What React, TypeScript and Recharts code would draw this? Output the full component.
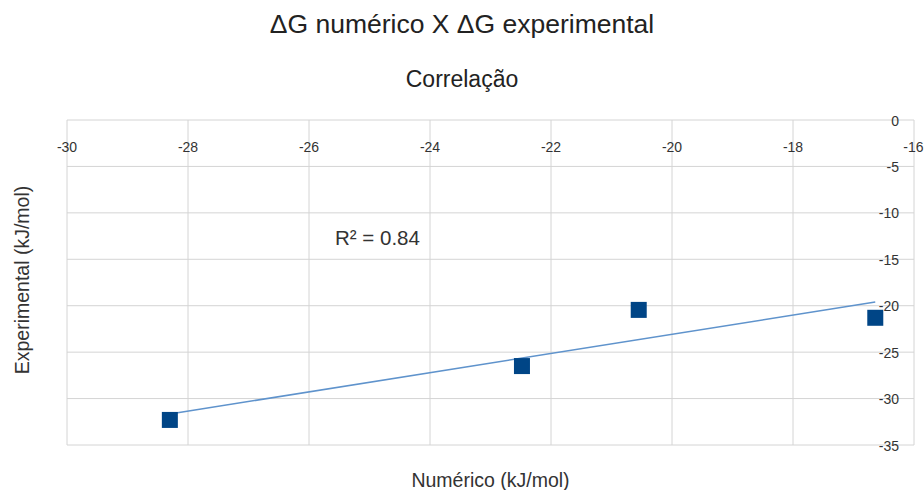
import { ScatterChart, Scatter, XAxis, YAxis, CartesianGrid } from "recharts";

// valores (kJ/mol)
const numerico = [-28.3, -22.48, -20.55, -16.64];
const experimental = [-32.3, -26.5, -20.45, -21.3];
const xTicks = [-30, -28, -26, -24, -22, -20, -18, -16];
const yTicks = [0, -5, -10, -15, -20, -25, -30, -35];
const r2Label = "R² = 0.84";

const W = 924;
const H = 490;
const PLOT_TOP = 120;
const PLOT_LEFT = 67;
const PLOT_RIGHT = 914;
const PLOT_BOTTOM = 445;
const FONT = "'Liberation Sans', Arial, sans-serif";

const points = numerico.map((x, i) => ({ x, y: experimental[i] }));

// linha de tendência (mínimos quadrados) entre o menor e o maior x
function trendLine() {
  const n = numerico.length;
  const mx = numerico.reduce((a, b) => a + b, 0) / n;
  const my = experimental.reduce((a, b) => a + b, 0) / n;
  let sxy = 0;
  let sxx = 0;
  numerico.forEach((x, i) => {
    sxy += (x - mx) * (experimental[i] - my);
    sxx += (x - mx) * (x - mx);
  });
  const slope = sxy / sxx;
  const x0 = Math.min(...numerico);
  const x1 = Math.max(...numerico);
  return [
    { x: x0, y: my + slope * (x0 - mx) },
    { x: x1, y: my + slope * (x1 - mx) },
  ];
}

const trend = trendLine();

const XTick = (props: any) => (
  <text
    x={props.x}
    y={PLOT_TOP + 32}
    textAnchor="middle"
    fontSize={14}
    fill="#333"
    fontFamily={FONT}
  >
    {props.payload.value}
  </text>
);

const YTick = (props: any) => (
  <text
    x={PLOT_RIGHT - 15}
    y={props.y}
    dy={5.5}
    textAnchor="end"
    fontSize={14}
    fill="#333"
    fontFamily={FONT}
  >
    {props.payload.value}
  </text>
);

const Square = (props: any) => (
  <rect x={props.cx - 8} y={props.cy - 8} width={16} height={16} fill="#004586" />
);

export default function App() {
  return (
    <div
      style={{
        position: "absolute",
        left: 0,
        top: 0,
        width: W,
        height: H,
        background: "#fff",
        fontFamily: FONT,
        overflow: "hidden",
      }}
    >
      <ScatterChart
        width={W}
        height={H}
        margin={{
          top: PLOT_TOP,
          left: PLOT_LEFT,
          right: W - PLOT_RIGHT,
          bottom: H - PLOT_BOTTOM,
        }}
      >
        <CartesianGrid stroke="#d4d4d4" strokeWidth={1} />
        <XAxis
          type="number"
          dataKey="x"
          orientation="top"
          domain={[-30, -16]}
          ticks={xTicks}
          mirror
          axisLine={false}
          tickLine={false}
          tick={<XTick />}
        />
        <YAxis
          type="number"
          dataKey="y"
          orientation="right"
          domain={[-35, 0]}
          ticks={yTicks}
          mirror
          axisLine={false}
          tickLine={false}
          tick={<YTick />}
        />
        <Scatter
          data={trend}
          line={{ stroke: "#5f93cc", strokeWidth: 1.6 }}
          shape={() => <g />}
          isAnimationActive={false}
        />
        <Scatter data={points} shape={<Square />} isAnimationActive={false} />
      </ScatterChart>

      <div
        style={{
          position: "absolute",
          top: 9,
          left: 0,
          width: W,
          textAlign: "center",
          fontSize: 26.5,
          lineHeight: 1.15,
          color: "#222",
        }}
      >
        ΔG numérico X ΔG experimental
      </div>
      <div
        style={{
          position: "absolute",
          top: 66,
          left: 0,
          width: W,
          textAlign: "center",
          fontSize: 23,
          lineHeight: 1.15,
          color: "#222",
        }}
      >
        Correlação
      </div>
      <div
        style={{
          position: "absolute",
          left: 335,
          top: 226,
          fontSize: 20.5,
          lineHeight: 1.15,
          color: "#333",
        }}
      >
        {r2Label}
      </div>
      <div
        style={{
          position: "absolute",
          left: 22,
          top: 280,
          transform: "translate(-50%, -50%) rotate(-90deg)",
          whiteSpace: "nowrap",
          fontSize: 19.5,
          lineHeight: 1.15,
          color: "#333",
        }}
      >
        Experimental (kJ/mol)
      </div>
      <div
        style={{
          position: "absolute",
          left: PLOT_LEFT,
          width: PLOT_RIGHT - PLOT_LEFT,
          top: 469,
          textAlign: "center",
          fontSize: 19.5,
          lineHeight: 1.15,
          color: "#333",
        }}
      >
        Numérico (kJ/mol)
      </div>
    </div>
  );
}
